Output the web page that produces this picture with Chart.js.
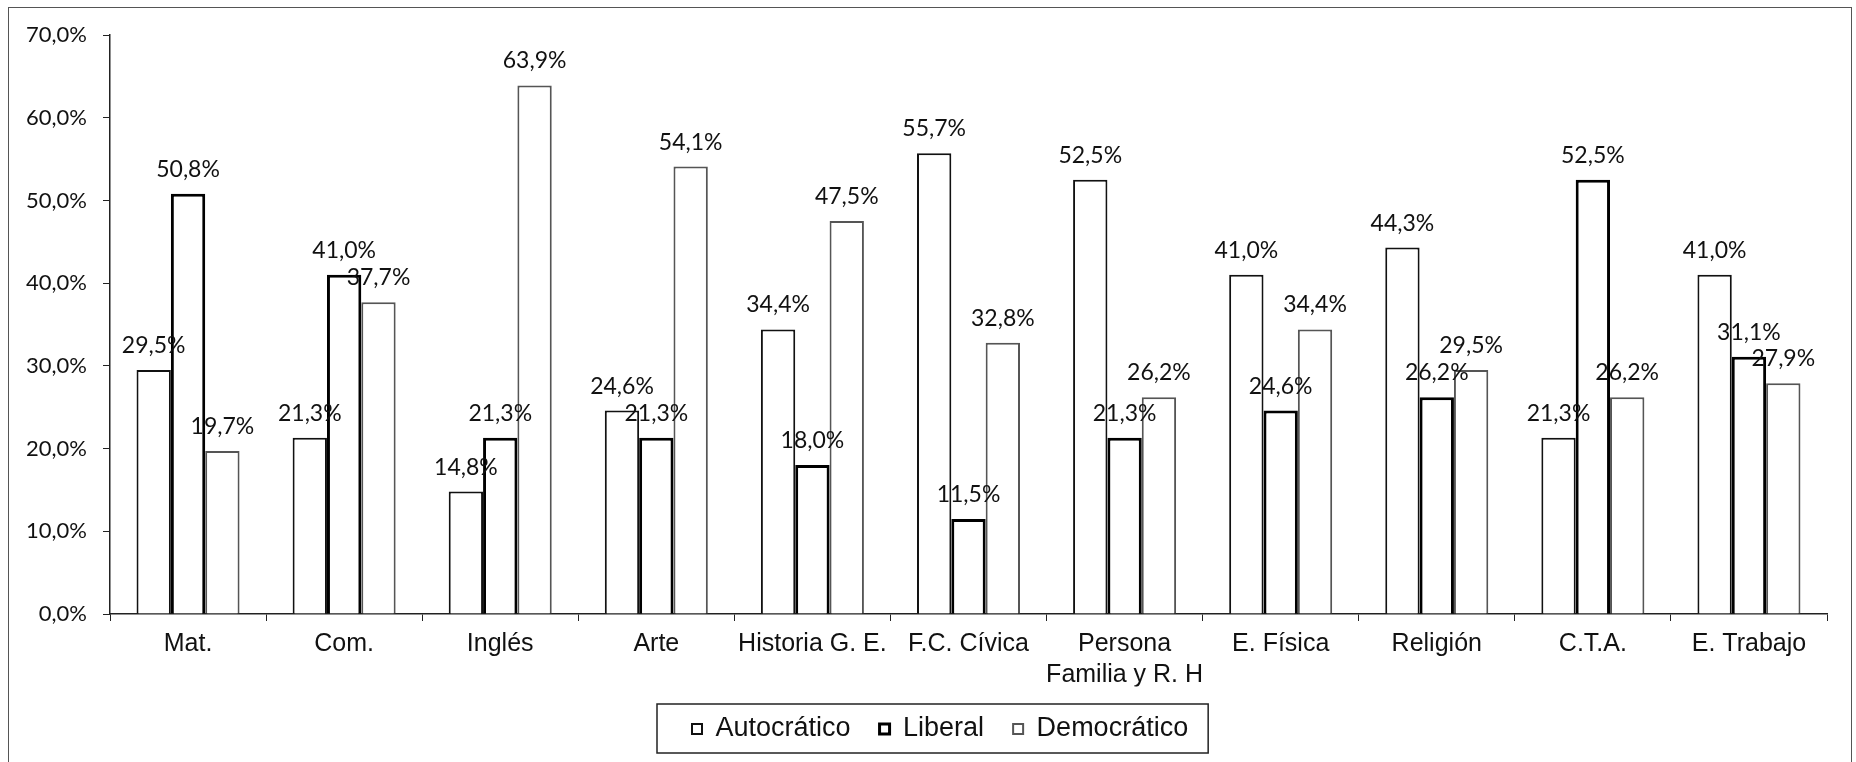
<!DOCTYPE html>
<html>
<head>
<meta charset="utf-8">
<script src="https://cdn.jsdelivr.net/npm/chart.js@4/dist/chart.umd.min.js"></script>
<style>
  html, body { margin: 0; padding: 0; background: #fff; }
  #wrap { position: relative; width: 1856px; height: 762px; overflow: hidden; }
  #frame { position: absolute; left: 8px; top: 7px; width: 1842px; height: 800px;
           border: 1.5px solid #555; pointer-events: none; }
</style>
</head>
<body>
<div id="wrap">
  <canvas id="chart" width="1856" height="762"></canvas>
  <div id="frame"></div>
</div>
<script>
// categories and values
const categories = ["Mat.", "Com.", "Inglés", "Arte", "Historia G. E.", "F.C. Cívica",
  ["Persona", "Familia y R. H"], "E. Física", "Religión", "C.T.A.", "E. Trabajo"];
const autocratico = [29.5, 21.3, 14.8, 24.6, 34.4, 55.7, 52.5, 41.0, 44.3, 21.3, 41.0];
const liberal     = [50.8, 41.0, 21.3, 21.3, 18.0, 11.5, 21.3, 24.6, 26.2, 52.5, 31.1];
const democratico = [19.7, 37.7, 63.9, 54.1, 47.5, 32.8, 26.2, 34.4, 29.5, 26.2, 27.9];
const yTicks = [0, 10, 20, 30, 40, 50, 60, 70];

function pct(v) {
    return v.toFixed(1).replace('.', ',') + '%';
}

// value labels above each bar
var valueLabels = {
    id: 'valueLabels',
    afterDatasetsDraw: function(chart) {
        var ctx = chart.ctx;
        ctx.save();
        ctx.font = '23px Lato';
        ctx.fillStyle = '#111';
        ctx.textAlign = 'center';
        ctx.textBaseline = 'alphabetic';
        chart.data.datasets.forEach(function(ds, i) {
            chart.getDatasetMeta(i).data.forEach(function(el, j) {
                ctx.fillText(pct(ds.data[j]), el.x, el.y - 17);
            });
        });
        ctx.restore();
    }
};

// move the legend so its items start where the original's do, and frame it
var legendBox = {
    id: 'legendBox',
    afterLayout: function(chart) {
        var lg = chart.legend;
        var pad = lg.options.labels.padding;
        var start = (lg.left + pad + lg.right - lg.lineWidths[0]) / 2;
        var shift = 692 - start;
        lg.left += shift;
        lg.right += shift;
    },
    afterDraw: function(chart) {
        var lg = chart.legend;
        var hb = lg.legendHitBoxes;
        if (!hb || !hb.length) return;
        var l = Math.min.apply(null, hb.map(function(h) { return h.left; }));
        var r = Math.max.apply(null, hb.map(function(h) { return h.left + h.width; }));
        var cy = hb[0].top + hb[0].height / 2;
        var ctx = chart.ctx;
        ctx.save();
        ctx.strokeStyle = '#222';
        ctx.lineWidth = 1.5;
        ctx.strokeRect(l - 35, cy - 25, (r - l) + 55, 49);
        ctx.restore();
    }
};

new Chart(document.getElementById('chart'), {
    type: 'bar',
    data: {
        labels: categories,
        datasets: [{
            label: 'Autocrático',
            data: autocratico,
            backgroundColor: '#fff',
            borderColor: '#111',
            borderWidth: 2
        }, {
            label: 'Liberal',
            data: liberal,
            backgroundColor: '#fff',
            borderColor: '#000',
            borderWidth: 3
        }, {
            label: 'Democrático',
            data: democratico,
            backgroundColor: '#fff',
            borderColor: '#555',
            borderWidth: 2
        }]
    },
    options: {
        responsive: false,
        animation: false,
        events: [],
        layout: { padding: { left: 0, right: 29, top: 35, bottom: 9.5 } },
        datasets: {
            bar: { categoryPercentage: 0.66, barPercentage: 1.0 }
        },
        plugins: {
            tooltip: { enabled: false },
            legend: {
                position: 'bottom',
                labels: {
                    color: '#111',
                    font: { family: 'Liberation Sans', size: 27 },
                    boxWidth: 10,
                    boxHeight: 10,
                    padding: 29
                }
            }
        },
        scales: {
            x: {
                grid: { drawOnChartArea: false, tickLength: 7, color: '#222', offset: true },
                border: { color: '#222', width: 1.5 },
                ticks: {
                    color: '#111',
                    maxRotation: 0,
                    autoSkip: false,
                    padding: 8,
                    font: { family: 'Liberation Sans', size: 25, lineHeight: 1.22 }
                },
                afterFit: function(s) { s.height = 72.5; }
            },
            y: {
                min: 0,
                max: 70,
                afterBuildTicks: function(s) {
                    s.ticks = yTicks.map(function(v) { return { value: v }; });
                },
                grid: { drawOnChartArea: false, tickLength: 7, color: '#222' },
                border: { color: '#222', width: 1.5 },
                ticks: {
                    color: '#111',
                    padding: 16,
                    font: { family: 'Lato', size: 22 },
                    callback: function(v) { return pct(v); }
                },
                afterFit: function(s) { s.width = 110; }
            }
        }
    },
    plugins: [valueLabels, legendBox]
});
</script>
</body>
</html>
